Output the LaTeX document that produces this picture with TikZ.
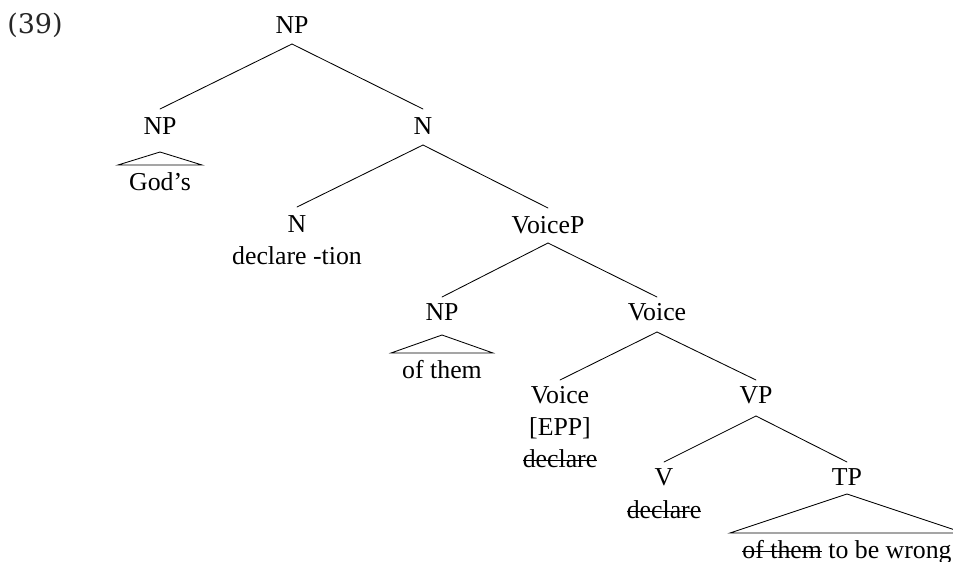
\documentclass[tikz,border=0pt]{standalone}
\usepackage{fontspec}
\setmainfont{Liberation Serif}
\newfontfamily\exfont{DejaVu Serif}
\usetikzlibrary{calc}
\tikzset{
  lbl/.style={anchor=base, inner sep=0pt, font=\fontsize{25.8}{30}\selectfont},
  exlbl/.style={anchor=base, inner sep=0pt, font=\exfont\fontsize{27}{30}\selectfont, text=black!85},
  branch/.style={line width=0.85pt, line cap=round},
}
\newcommand{\gone}[1]{\setbox0\hbox{#1}\rlap{\vrule height 0.27em depth -0.22em width \wd0}\box0\relax}
\begin{document}
\begin{tikzpicture}[x=1pt, y=-1pt]
\useasboundingbox (0,0) rectangle (953,562);
% example number
\node[exlbl] (ex) at (35,33) {(39)};
% nodes
\node[lbl] (np0) at (292,33) {NP};
\node[lbl] (np1) at (160,134) {NP};
\node[lbl] (gods) at (160,190) {God’s};
\node[lbl] (n1) at (423,134) {N};
\node[lbl] (n2) at (297,232) {N};
\node[lbl] (decl) at (297,264) {declare -tion};
\node[lbl] (voicep) at (548,233) {VoiceP};
\node[lbl] (np2) at (442,320) {NP};
\node[lbl] (ofthem) at (442,378) {of them};
\node[lbl] (voice1) at (657,320) {Voice};
\node[lbl] (voice2) at (560,403) {Voice};
\node[lbl] (epp) at (560,435) {[EPP]};
\node[lbl] (decl2) at (560,467) {\gone{declare}};
\node[lbl] (vp) at (756,403) {VP};
\node[lbl] (v) at (664,485) {V};
\node[lbl] (decl3) at (664,518) {\gone{declare}};
\node[lbl] (tp) at (847,485) {TP};
\node[lbl] (tpt) at (847,558) {\gone{of them} to be wrong};
% branches
\draw[branch] ($(np0.base)+(0,11)$) -- ($(np1.base)+(0,-25)$);
\draw[branch] ($(np0.base)+(0,11)$) -- ($(n1.base)+(0,-25)$);
\draw[branch] ($(n1.base)+(0,11)$) -- ($(n2.base)+(0,-25)$);
\draw[branch] ($(n1.base)+(0,11)$) -- ($(voicep.base)+(0,-25)$);
\draw[branch] ($(voicep.base)+(0,10)$) -- ($(np2.base)+(0,-23)$);
\draw[branch] ($(voicep.base)+(0,10)$) -- ($(voice1.base)+(0,-23)$);
\draw[branch] ($(voice1.base)+(0,12)$) -- ($(voice2.base)+(0,-23)$);
\draw[branch] ($(voice1.base)+(0,12)$) -- ($(vp.base)+(0,-23)$);
\draw[branch] ($(vp.base)+(0,13)$) -- ($(v.base)+(0,-23)$);
\draw[branch] ($(vp.base)+(0,13)$) -- ($(tp.base)+(0,-23)$);
% triangles
\draw[branch, line join=miter] ($(np1.base)+(-42,31)$) -- ($(np1.base)+(0,18)$) -- ($(np1.base)+(42,31)$) -- cycle;
\draw[branch, line join=miter] ($(np2.base)+(-51,33)$) -- ($(np2.base)+(0,15)$) -- ($(np2.base)+(51,33)$) -- cycle;
\draw[branch, line join=miter] ($(tp.base)+(-117,48)$) -- ($(tp.base)+(0,9)$) -- ($(tp.base)+(117,48)$) -- cycle;
\end{tikzpicture}
\end{document}
